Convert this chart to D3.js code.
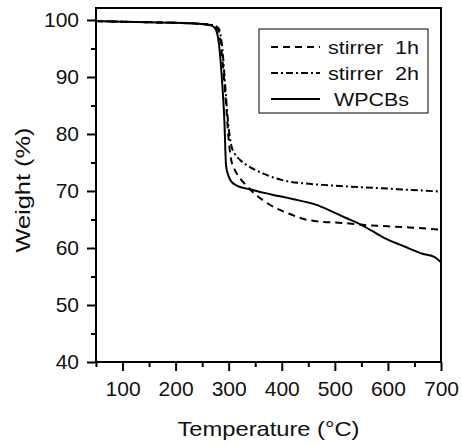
<!DOCTYPE html>
<html>
<head>
<meta charset="utf-8">
<script src="https://cdnjs.cloudflare.com/ajax/libs/d3/7.8.5/d3.min.js"></script>
<style>
  body { margin: 0; background: #fff; }
  svg text { font-family: "Liberation Sans", Arial, sans-serif; fill: #111; }
</style>
</head>
<body>
<svg id="chart"></svg>
<script>
// TGA curves
var wpcbT  = [50, 100, 150, 200, 250, 268, 276, 282, 287, 292, 295, 299, 304, 314, 339, 380, 420, 464, 490, 520, 547, 570, 597, 630, 665, 688, 700];
var wpcbW  = [99.8, 99.7, 99.6, 99.5, 99.3, 99.0, 98.3, 95.5, 90, 82, 74.5, 72.8, 71.8, 71.0, 70.3, 69.4, 68.6, 67.6, 66.6, 65.3, 64.2, 63.0, 61.6, 60.3, 59.0, 58.4, 57.5];

var s1T = [50, 100, 150, 200, 250, 270, 280, 286, 291, 296, 300, 304, 310, 320, 335, 348, 379, 414, 445, 476, 513, 560, 600, 640, 700];
var s1W = [99.8, 99.7, 99.6, 99.5, 99.3, 99.0, 98.3, 95, 90, 84, 79, 75.8, 74.0, 72.4, 70.8, 69.6, 67.5, 66.0, 65.0, 64.6, 64.4, 64.0, 63.8, 63.6, 63.2];

var s2T = [50, 100, 150, 200, 250, 270, 281, 288, 293, 298, 302, 306, 311, 322, 333, 364, 401, 445, 489, 523, 584, 640, 700];
var s2W = [99.8, 99.7, 99.6, 99.5, 99.3, 99.1, 98.5, 95, 89, 83, 79.5, 77.6, 76.6, 75.4, 74.6, 73.1, 71.9, 71.3, 71.0, 70.8, 70.5, 70.2, 69.9];

var xTicks = [100, 200, 300, 400, 500, 600, 700];
var xMinor = [50, 150, 250, 350, 450, 550, 650];
var yTicks = [40, 50, 60, 70, 80, 90, 100];
var yMinor = [45, 55, 65, 75, 85, 95];

var series = [
  {name: "stirrer  1h", t: s1T, w: s1W, dash: "7,5", tx: 328, tw: 91},
  {name: "stirrer  2h", t: s2T, w: s2W, dash: "7,3,2,3", tx: 328, tw: 91},
  {name: "WPCBs", t: wpcbT, w: wpcbW, dash: null, tx: 334, tw: 75}
];

var width = 462, height = 445;
var margin = {top: 8, right: 21, bottom: 83, left: 96};

var svg = d3.select("#chart")
  .attr("width", width)
  .attr("height", height);

var x = d3.scaleLinear().domain([50, 700]).range([margin.left, width - margin.right]);
var y = d3.scaleLinear().domain([40, 102.1]).range([height - margin.bottom, margin.top]);

// minor ticks first
svg.append("g")
  .attr("transform", "translate(0," + (height - margin.bottom) + ")")
  .call(d3.axisBottom(x).tickValues(xMinor).tickSize(5).tickFormat(""))
  .call(g => g.select(".domain").remove())
  .selectAll("line").attr("stroke-width", 2);

svg.append("g")
  .attr("transform", "translate(" + margin.left + ",0)")
  .call(d3.axisLeft(y).tickValues(yMinor).tickSize(5).tickFormat(""))
  .call(g => g.select(".domain").remove())
  .selectAll("line").attr("stroke-width", 2);

var xAxis = svg.append("g")
  .attr("transform", "translate(0," + (height - margin.bottom) + ")")
  .call(d3.axisBottom(x).tickValues(xTicks).tickSize(9).tickSizeOuter(0).tickPadding(10));
xAxis.select(".domain").remove();
xAxis.selectAll("line").attr("stroke-width", 2);
xAxis.selectAll("text").style("font-size", "21px");

var yAxis = svg.append("g")
  .attr("transform", "translate(" + margin.left + ",0)")
  .call(d3.axisLeft(y).tickValues(yTicks).tickSize(9).tickSizeOuter(0).tickPadding(8));
yAxis.select(".domain").remove();
yAxis.selectAll("line").attr("stroke-width", 2);
yAxis.selectAll("text").style("font-size", "21px");

// frame
svg.append("rect")
  .attr("x", margin.left)
  .attr("y", margin.top)
  .attr("width", width - margin.left - margin.right)
  .attr("height", height - margin.top - margin.bottom)
  .attr("fill", "none")
  .attr("stroke", "#000")
  .attr("stroke-width", 2);

var line = d3.line()
  .x(d => x(d[0]))
  .y(d => y(d[1]))
  .curve(d3.curveMonotoneX);

series.forEach(function(s) {
  svg.append("path")
    .datum(d3.zip(s.t, s.w))
    .attr("fill", "none")
    .attr("stroke", "#000")
    .attr("stroke-width", 2)
    .attr("stroke-dasharray", s.dash)
    .attr("d", line);
});

// legend
var lg = svg.append("g");
lg.append("rect")
  .attr("x", 259).attr("y", 29)
  .attr("width", 169).attr("height", 84)
  .attr("fill", "#fff")
  .attr("stroke", "#000")
  .attr("stroke-width", 1);

series.forEach(function(s, i) {
  var ly = 47 + i * 26;
  lg.append("line")
    .attr("x1", 271).attr("x2", 320)
    .attr("y1", ly).attr("y2", ly)
    .attr("stroke", "#000")
    .attr("stroke-width", 2)
    .attr("stroke-dasharray", s.dash);
  lg.append("text")
    .attr("x", s.tx)
    .attr("y", ly + 7)
    .style("font-size", "19px")
    .attr("xml:space", "preserve")
    .attr("textLength", s.tw)
    .attr("lengthAdjust", "spacingAndGlyphs")
    .text(s.name);
});

// axis titles
svg.append("text")
  .attr("x", (margin.left + width - margin.right) / 2)
  .attr("y", 436)
  .style("text-anchor", "middle")
  .style("font-size", "21px")
  .attr("textLength", 182)
  .attr("lengthAdjust", "spacingAndGlyphs")
  .text("Temperature (°C)");

svg.append("text")
  .attr("transform", "rotate(-90)")
  .attr("x", -190)
  .attr("y", 30)
  .style("text-anchor", "middle")
  .style("font-size", "21px")
  .attr("textLength", 125)
  .attr("lengthAdjust", "spacingAndGlyphs")
  .text("Weight (%)");
</script>
</body>
</html>
